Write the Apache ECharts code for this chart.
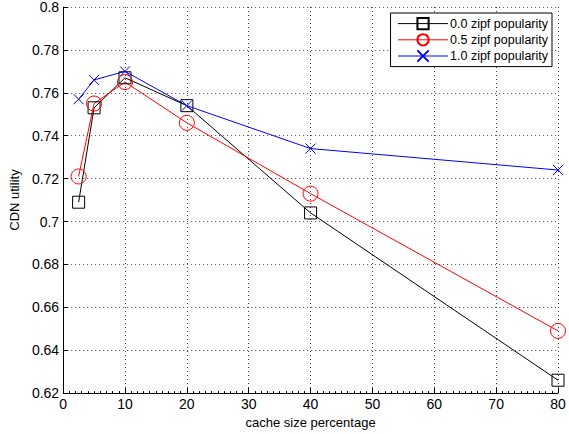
<!DOCTYPE html>
<html>
<head>
<meta charset="utf-8">
<script src="https://cdn.jsdelivr.net/npm/echarts@6/dist/echarts.min.js"></script>
<style>
  html, body { margin: 0; padding: 0; background: #fff; }
  #chart { width: 569px; height: 434px; }
</style>
</head>
<body>
<div id="chart"></div>
<script>
// cache size percentage
var cacheSizes = [2.5, 5, 10, 20, 40, 80];
// CDN utility per popularity setting
var zipf00 = [0.709, 0.753, 0.767, 0.754, 0.704, 0.626];
var zipf05 = [0.721, 0.755, 0.765, 0.746, 0.713, 0.649];
var zipf10 = [0.757, 0.766, 0.770, 0.754, 0.734, 0.724];
var seriesNames = ['0.0 zipf popularity', '0.5 zipf popularity', '1.0 zipf popularity'];

function pairs(ys) {
  return cacheSizes.map(function(x, i) { return [x, ys[i]]; });
}

var font = '"Liberation Sans", Arial, sans-serif';
var grid = { lineStyle: { color: '#444', type: [1, 3], width: 1 } };

function mkSeries(name, ys, color, symbol, size) {
  return {
    name: name,
    type: 'line',
    data: pairs(ys),
    symbol: symbol,
    symbolSize: size,
    showAllSymbol: true,
    lineStyle: { color: color, width: 1 },
    itemStyle: { color: 'transparent', borderColor: color, borderWidth: 1 },
    emphasis: { disabled: true }
  };
}

var chart = echarts.init(document.getElementById('chart'), null, { renderer: 'svg' });
chart.setOption({
  animation: false,
  backgroundColor: '#fff',
  textStyle: { fontFamily: font },
  grid: { left: 63, right: 11, top: 7, bottom: 38 },
  legend: {
    orient: 'vertical',
    right: 17,
    top: 13,
    padding: [4, 4, 4, 7],
    itemWidth: 50,
    itemHeight: 14,
    itemGap: 3,
    lineStyle: { width: 1 },
    backgroundColor: '#fff',
    borderColor: '#000',
    borderWidth: 1,
    textStyle: { fontSize: 12.5, color: '#000', fontFamily: font, padding: [0, 0, 0, -3] },
    data: seriesNames
  },
  xAxis: {
    type: 'value',
    min: 0,
    max: 80,
    interval: 10,
    name: 'cache size percentage',
    nameLocation: 'middle',
    nameGap: 21,
    nameTextStyle: { fontSize: 13, color: '#000' },
    axisLine: { show: true, onZero: false, lineStyle: { color: '#000', width: 1 } },
    axisTick: { show: true, inside: true, length: 5, lineStyle: { color: '#000' } },
    minorTick: { show: true, splitNumber: 10, length: 2, lineStyle: { color: '#000' } },
    axisLabel: { fontSize: 14, color: '#000', margin: 4 },
    splitLine: grid
  },
  yAxis: {
    type: 'value',
    min: 0.62,
    max: 0.8,
    interval: 0.02,
    name: 'CDN utility',
    nameLocation: 'middle',
    nameGap: 38,
    nameTextStyle: { fontSize: 13, color: '#000' },
    axisLine: { show: true, onZero: false, lineStyle: { color: '#000', width: 1 } },
    axisTick: { show: true, inside: true, length: 5, lineStyle: { color: '#000' } },
    axisLabel: {
      fontSize: 14, color: '#000', margin: 4,
      formatter: function(v) { return String(+v.toFixed(2)); }
    },
    splitLine: grid
  },
  series: [
    mkSeries(seriesNames[0], zipf00, '#000', 'rect', 12),
    mkSeries(seriesNames[1], zipf05, '#ff0000', 'circle', 15),
    mkSeries(seriesNames[2], zipf10, '#0000ff', 'path://M0,0L10,10M10,0L0,10', 10)
  ]
});
</script>
</body>
</html>
